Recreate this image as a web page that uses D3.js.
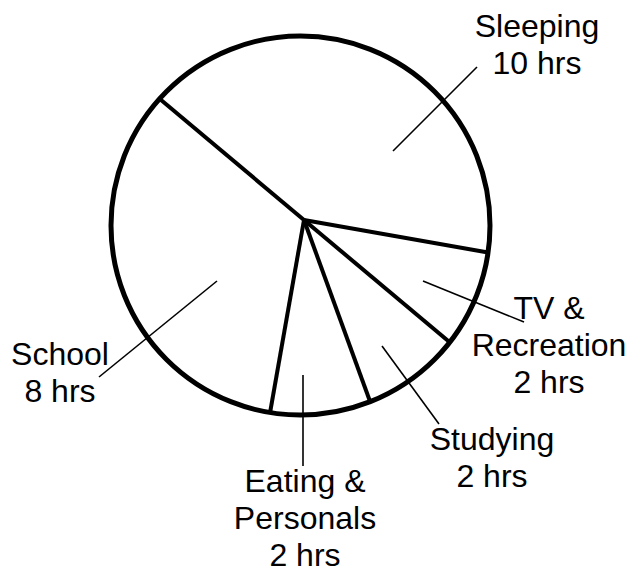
<!DOCTYPE html>
<html>
<head>
<meta charset="utf-8">
<script src="https://cdn.jsdelivr.net/npm/d3@7"></script>
<style>
  html, body { margin: 0; padding: 0; background: #fff; }
  svg { display: block; }
  text { font-family: "Liberation Sans", Arial, sans-serif; font-size: 32px; fill: #000; }
</style>
</head>
<body>
<div id="chart"></div>
<script>
// data
var activities = ["Sleeping", "TV & Recreation", "Studying", "Eating & Personals", "School"];
var hours = [10, 2, 2, 2, 8];
var nameLines = [["Sleeping"], ["TV &", "Recreation"], ["Studying"], ["Eating &", "Personals"], ["School"]];

var width = 629, height = 573;
var cx = 300.5, cy = 225.5, R = 189.5;   // outline circle
var vx = 304, vy = 220;                   // where the wedges meet
var startDeg = 310;

// label layout: leader from -> to, text centre, first baseline
var labelPos = {
  "Sleeping":           { from: [393, 151], to: [477, 67],  x: 537, y: 37 },
  "TV & Recreation":    { from: [423, 281], to: [524, 322], x: 549, y: 319 },
  "Studying":           { from: [382, 346], to: [439, 424], x: 492, y: 450 },
  "Eating & Personals": { from: [303, 375], to: [303, 466], x: 305, y: 492 },
  "School":             { from: [217, 281], to: [99, 377],  x: 60,  y: 365 }
};
var lineH = 37;

var svg = d3.select("#chart").append("svg")
  .attr("width", width).attr("height", height);

var data = activities.map(function(a, i) { return { name: a, hours: hours[i], lines: nameLines[i] }; });

var a0 = startDeg * Math.PI / 180;
var pie = d3.pie().sort(null).value(function(d) { return d.hours; })
  .startAngle(a0).endAngle(a0 + 2 * Math.PI);
var arcs = pie(data);

// point where a ray from the vertex hits the outline
function edgePoint(angle) {
  var dx = Math.sin(angle), dy = -Math.cos(angle);
  var wx = vx - cx, wy = vy - cy;
  var b = wx * dx + wy * dy;
  var c = wx * wx + wy * wy - R * R;
  var t = -b + Math.sqrt(b * b - c);
  return [vx + t * dx, vy + t * dy];
}

svg.append("g").selectAll("line")
  .data(arcs)
  .join("line")
  .attr("x1", vx).attr("y1", vy)
  .attr("x2", function(d) { return edgePoint(d.startAngle)[0]; })
  .attr("y2", function(d) { return edgePoint(d.startAngle)[1]; })
  .attr("stroke", "#000").attr("stroke-width", 4);

svg.append("circle")
  .attr("cx", cx).attr("cy", cy).attr("r", R)
  .attr("fill", "none").attr("stroke", "#000").attr("stroke-width", 5);

// leaders
svg.append("g").selectAll("line")
  .data(data)
  .join("line")
  .attr("x1", function(d) { return labelPos[d.name].from[0]; })
  .attr("y1", function(d) { return labelPos[d.name].from[1]; })
  .attr("x2", function(d) { return labelPos[d.name].to[0]; })
  .attr("y2", function(d) { return labelPos[d.name].to[1]; })
  .attr("stroke", "#000").attr("stroke-width", 1.6);

// labels
var labels = svg.append("g").selectAll("text")
  .data(data)
  .join("text")
  .attr("text-anchor", "middle")
  .attr("x", function(d) { return labelPos[d.name].x; })
  .attr("y", function(d) { return labelPos[d.name].y; });

labels.each(function(d) {
  var t = d3.select(this);
  var lines = d.lines.concat([d.hours + " hrs"]);
  lines.forEach(function(s, i) {
    t.append("tspan")
      .attr("x", labelPos[d.name].x)
      .attr("dy", i === 0 ? 0 : lineH)
      .text(s);
  });
});
</script>
</body>
</html>
